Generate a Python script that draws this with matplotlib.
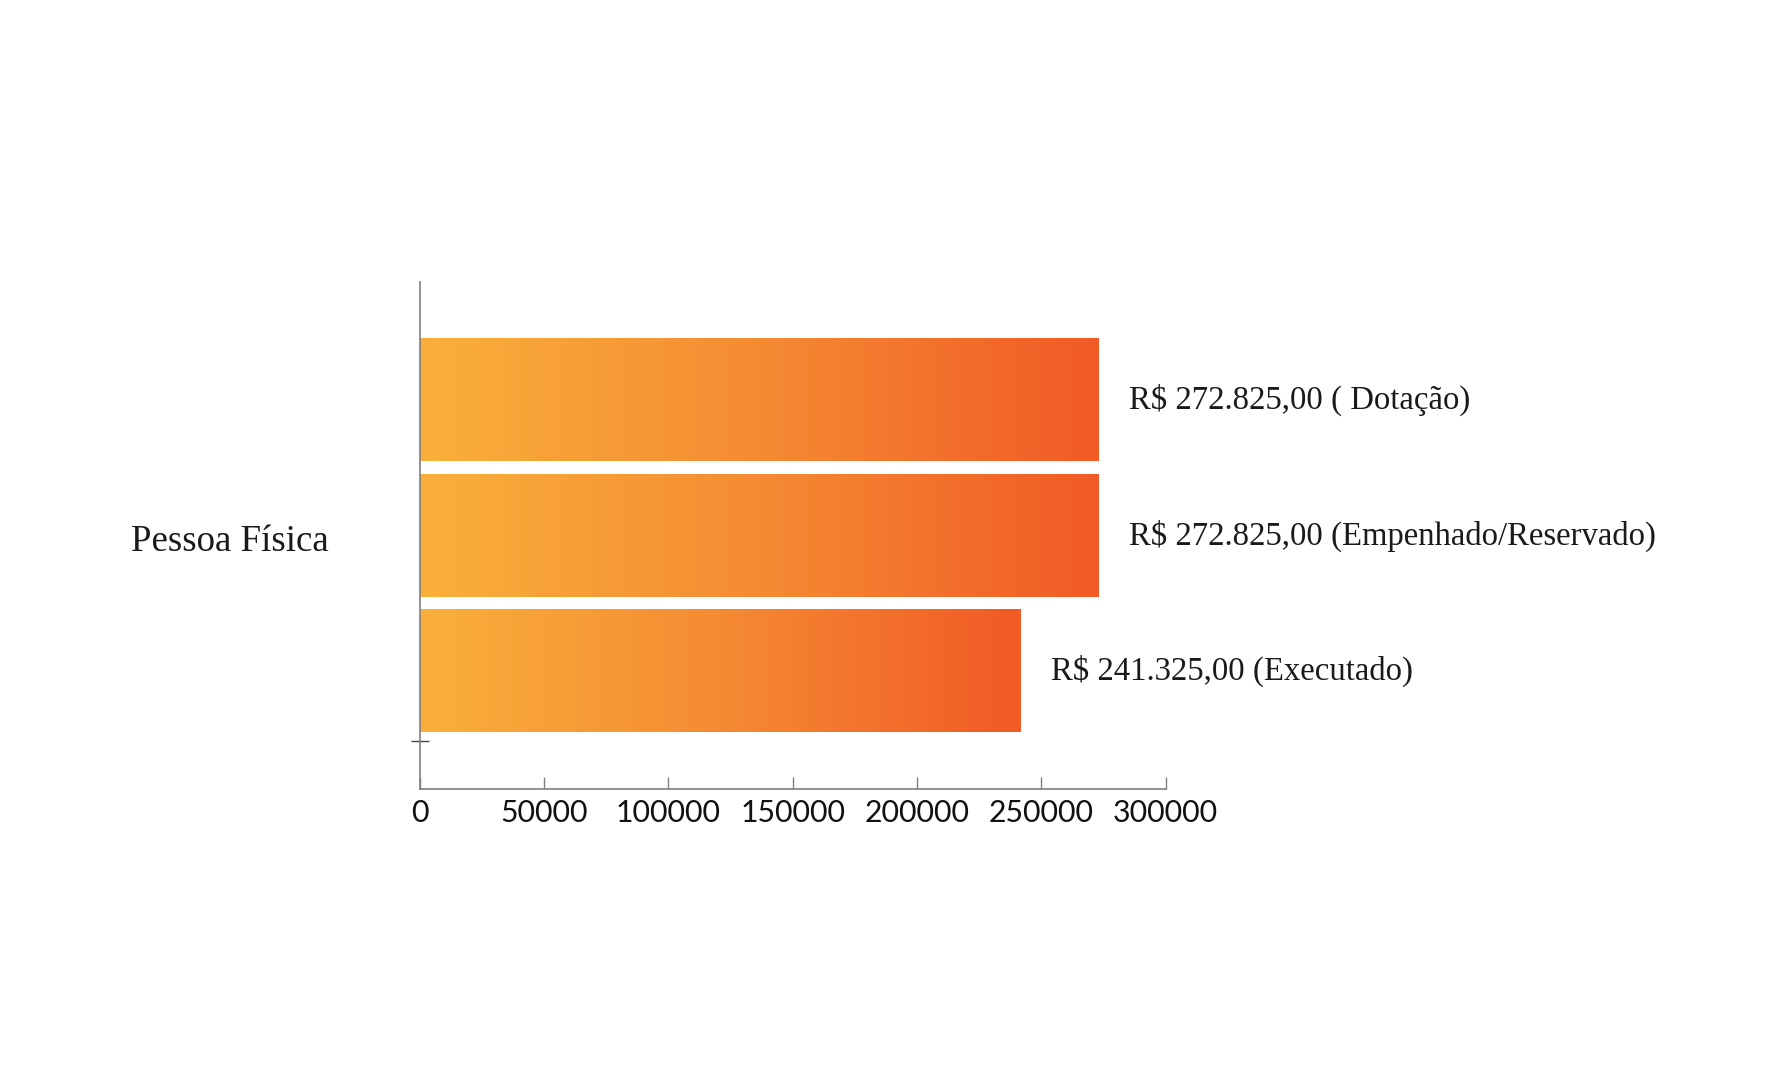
import numpy as np
import matplotlib
matplotlib.use('Agg')
import matplotlib.pyplot as plt
from matplotlib.colors import LinearSegmentedColormap

# Dados do gráfico
categoria = 'Pessoa Física'
series = ['Dotação', 'Empenhado/Reservado', 'Executado']
valores = [272825.00, 272825.00, 241325.00]
rotulos = ['R$ 272.825,00 ( Dotação)',
           'R$ 272.825,00 (Empenhado/Reservado)',
           'R$ 241.325,00 (Executado)']
xticks = [0, 50000, 100000, 150000, 200000, 250000, 300000]

# Gradiente laranja -> vermelho (em cada barra)
cmap = LinearSegmentedColormap.from_list('laranja', ['#F9B03A', '#F58B33', '#F15A25'])
gradiente = np.linspace(0, 1, 256).reshape(1, -1)

fig = plt.figure(figsize=(17.9, 10.8), dpi=100)
ax = fig.add_axes([0.2345, 0.2692, 0.6512 - 0.2345, 0.7392 - 0.2692])

altura = 0.9
pos = np.arange(len(valores))

# barras invisíveis + imagem com o gradiente por cima
bars = ax.barh(pos, valores, height=altura, color='none', edgecolor='none')
for b, v in zip(bars, valores):
    y0 = b.get_y()
    ax.imshow(gradiente, cmap=cmap, aspect='auto', interpolation='bicubic',
              extent=[0, v, y0 + altura, y0], zorder=2)

for p, v, txt in zip(pos, valores, rotulos):
    ax.annotate(txt, xy=(v, p), xytext=(31, 0), textcoords='offset pixels',
                va='center', ha='left', fontsize=23.6, family='Liberation Serif',
                color='#1a1a1a')

ax.set_xlim(0, 300000)
ax.set_ylim(2.871, -0.871)

for s in ['top', 'right']:
    ax.spines[s].set_visible(False)
for s in ['left', 'bottom']:
    ax.spines[s].set_color('#808080')
    ax.spines[s].set_linewidth(1.2)

ax.set_xticks(xticks)
ax.set_xticklabels([str(t) for t in xticks], fontsize=21.8, family='Lato', color='#111111')
ax.tick_params(axis='x', direction='in', length=8.6, width=1.0, color='#808080', pad=7)

ax.set_yticks([2.514])
ax.set_yticklabels([''])
ax.tick_params(axis='y', direction='inout', length=13, width=1.0, color='#444444')

# rótulo da categoria
ax.text(-0.122, 0.488, categoria, transform=ax.transAxes, ha='right', va='center',
        fontsize=26.6, family='Liberation Serif', color='#1a1a1a')

fig.savefig('out.png', dpi=100, facecolor='white')
